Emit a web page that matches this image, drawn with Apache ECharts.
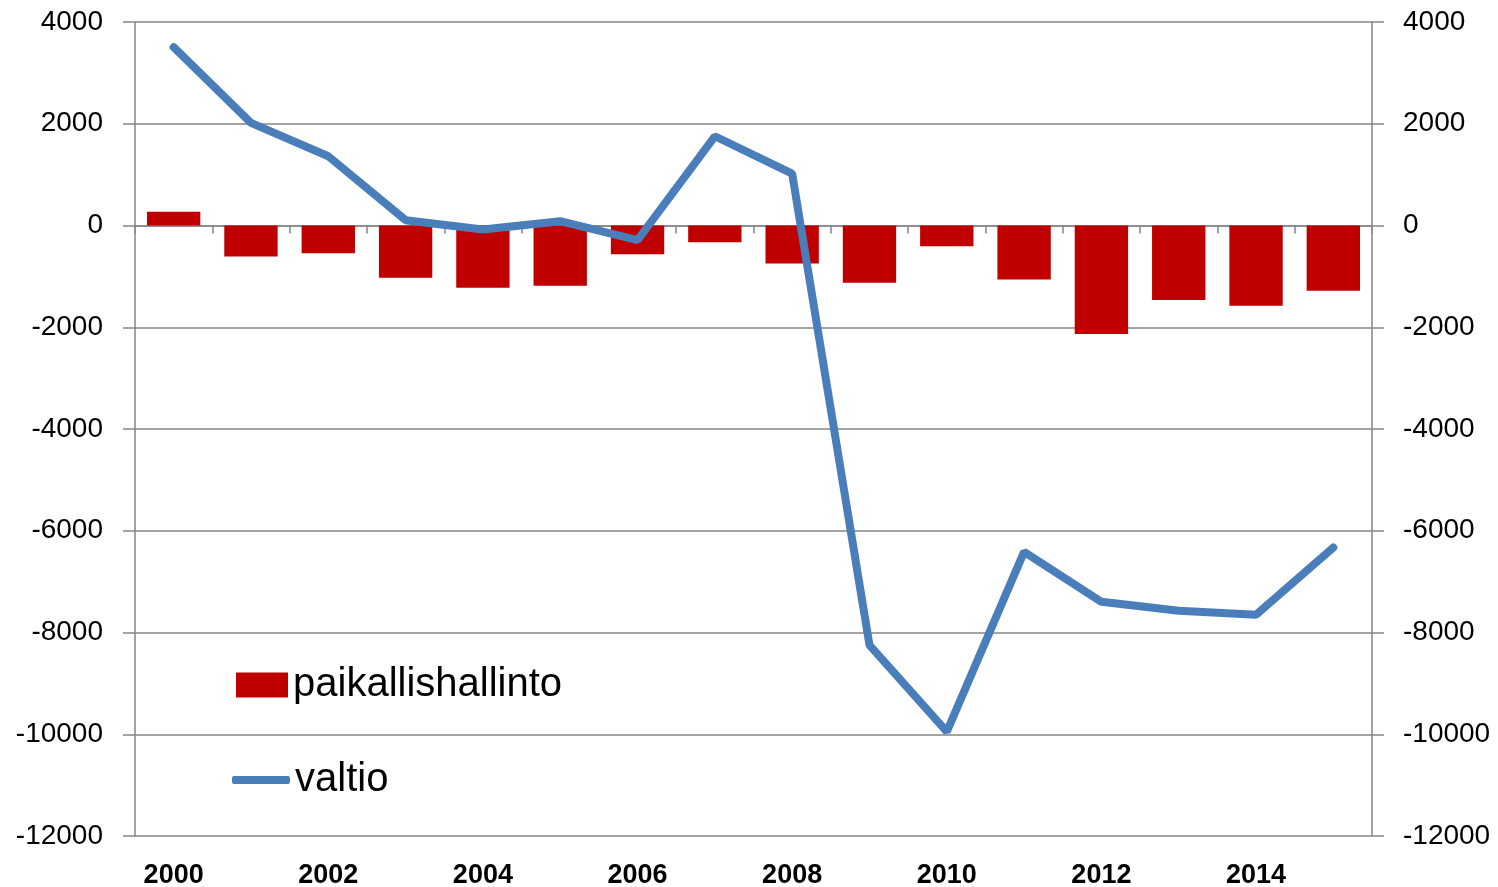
<!DOCTYPE html>
<html>
<head>
<meta charset="utf-8">
<script src="https://cdn.jsdelivr.net/npm/echarts@6/dist/echarts.min.js"></script>
<style>
  html, body { margin: 0; padding: 0; background: #fff; }
  #chart { width: 1498px; height: 887px; }
</style>
</head>
<body>
<div id="chart"></div>
<script>
  // vuodet ja sarjat
  var years = ["2000", "2001", "2002", "2003", "2004", "2005", "2006", "2007",
               "2008", "2009", "2010", "2011", "2012", "2013", "2014", "2015"];
  var paikallishallinto = [269, -609, -544, -1027, -1224, -1185, -564, -328,
                           -746, -1126, -406, -1060, -2134, -1466, -1577, -1282];
  var valtio = [3505, 2017, 1361, 105, -80, 85, -289, 1754,
                1021, -8248, -9950, -6416, -7397, -7573, -7652, -6330];

  var yMin = -12000, yMax = 4000, yStep = 2000;
  var gridGray = "#868686";
  var font = "'Liberation Sans', Arial, sans-serif";

  var myChart = echarts.init(document.getElementById("chart"));

  var yAxisBase = function (pos, margin) {
    return {
      type: "value",
      position: pos,
      min: yMin,
      max: yMax,
      interval: yStep,
      axisLine: { show: true, lineStyle: { color: gridGray, width: 1.5 } },
      axisTick: { show: true, length: 12, lineStyle: { color: gridGray, width: 1.5 } },
      axisLabel: {
        margin: margin, color: "#000", fontSize: 28, fontFamily: font,
        formatter: function (v) { return String(v); }
      },
      splitLine: { show: pos === "left", lineStyle: { color: gridGray, width: 1.5 } }
    };
  };

  var option = {
    animation: false,
    grid: { left: 135, right: 126, top: 22, bottom: 51, containLabel: false, outerBoundsMode: "none" },
    legend: [
      {
        data: ["paikallishallinto"],
        left: 231, top: 660,
        itemWidth: 52, itemHeight: 25,
        icon: "rect",
        textStyle: { color: "#000", fontSize: 40, fontFamily: font, padding: [0, 0, 0, 0] }
      },
      {
        data: ["valtio"],
        left: 227, top: 755,
        itemWidth: 58, itemHeight: 8,
        icon: "roundRect",
        textStyle: { color: "#000", fontSize: 40, fontFamily: font, padding: [0, 0, 0, 0] }
      }
    ],
    xAxis: [
      {
        type: "category",
        data: years,
        position: "bottom",
        axisLine: { show: false, onZero: false },
        axisTick: { show: false },
        axisLabel: { interval: 1, margin: 26, color: "#000", fontSize: 27,
                     fontWeight: "bold", fontFamily: font }
      },
      {
        type: "category",
        data: years,
        position: "bottom",
        axisLine: { show: true, onZero: true, onZeroAxisIndex: 0,
                    lineStyle: { color: gridGray, width: 1.5 } },
        axisTick: { show: true, interval: 0, length: 8, lineStyle: { color: gridGray, width: 1.5 } },
        axisLabel: { show: false }
      }
    ],
    yAxis: [yAxisBase("left", 32), yAxisBase("right", 31)],
    series: [
      {
        name: "paikallishallinto",
        type: "bar",
        data: paikallishallinto,
        xAxisIndex: 0,
        yAxisIndex: 0,
        barCategoryGap: "31%",
        itemStyle: { color: "#C00000" }
      },
      {
        name: "valtio",
        type: "line",
        data: valtio,
        xAxisIndex: 0,
        yAxisIndex: 0,
        showSymbol: false,
        symbol: "none",
        itemStyle: { color: "#4A7EBB" },
        lineStyle: { color: "#4A7EBB", width: 8, cap: "round", join: "bevel" },
        z: 3
      }
    ]
  };

  myChart.setOption(option);
</script>
</body>
</html>
